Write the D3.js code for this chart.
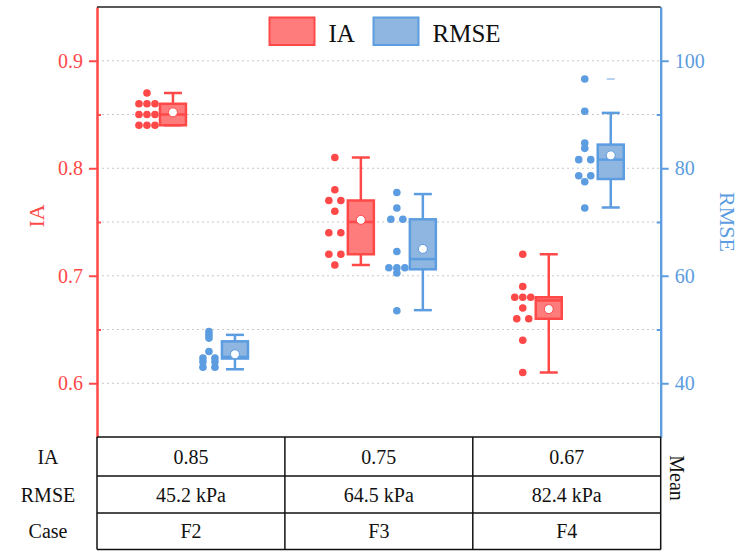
<!DOCTYPE html>
<html>
<head>
<meta charset="utf-8">
<script src="https://cdn.jsdelivr.net/npm/d3@7"></script>
<style>
body { margin: 0; background: #fff; }
text { font-family: "Liberation Serif", "Times New Roman", serif; }
</style>
</head>
<body>
<div id="chart"></div>
<script>
var cases = ["F2", "F3", "F4"];

// individual points per case
var iaPoints = [
  [0.87, 0.86, 0.86, 0.86, 0.85, 0.85, 0.85, 0.84, 0.84, 0.84],
  [0.81, 0.78, 0.77, 0.77, 0.76, 0.74, 0.74, 0.72, 0.72, 0.71],
  [0.72, 0.69, 0.68, 0.68, 0.68, 0.67, 0.66, 0.66, 0.64, 0.61]
];
var rmsePoints = [
  [49.6, 49.0, 48.4, 45.9, 44.7, 44.7, 44.0, 44.0, 43.0, 43.0],
  [75.5, 72.6, 70.5, 70.5, 64.5, 61.5, 61.5, 61.5, 60.5, 53.5],
  [96.6, 90.6, 84.7, 83.7, 81.6, 81.6, 78.6, 78.6, 77.5, 72.6]
];

// box stats: [low whisker, q1, median, q3, high whisker]
var iaBox = [
  [0.84, 0.84, 0.85, 0.86, 0.87],
  [0.71, 0.72, 0.75, 0.77, 0.81],
  [0.61, 0.66, 0.677, 0.68, 0.72]
];
var rmseBox = [
  [42.6, 44.6, 44.9, 47.8, 49.0],
  [53.6, 61.2, 63.1, 70.5, 75.2],
  [72.7, 78.0, 81.6, 84.4, 90.3]
];
var iaMean = [0.852, 0.752, 0.669];
var rmseMean = [45.4, 65.0, 82.4];
var iaOutliers = [[], [], []];
var rmseOutliers = [[], [], [96.6]];

var tableIA = ["0.85", "0.75", "0.67"];
var tableRMSE = ["45.2 kPa", "64.5 kPa", "82.4 kPa"];
var rowLabels = ["IA", "RMSE", "Case"];

var iaTicks = [0.6, 0.7, 0.8, 0.9];
var iaMinor = [0.65, 0.75, 0.85];
var rmseTicks = [40, 60, 80, 100];
var rmseMinor = [50, 70, 90];

var W = 740, H = 551;
var plotLeft = 97, plotRight = 660.7, plotTop = 7, plotBottom = 437;
var rowEdges = [437, 476, 513, 549.5];

var red = "#ff4848", redFill = "#ff7c7c";
var blue = "#5c9ce0", blueFill = "#8fb6e0";

var svg = d3.select("#chart").append("svg")
    .attr("width", W)
    .attr("height", H);

var x = d3.scaleBand().domain(cases).range([plotLeft, plotRight]);
var yIA = d3.scaleLinear().domain([0.55, 0.95]).range([plotBottom, plotTop]);
var yR = d3.scaleLinear().domain([30, 110]).range([plotBottom, plotTop]);

var series = [
  {name: "IA", points: iaPoints, box: iaBox, mean: iaMean, outliers: iaOutliers,
   y: yIA, stroke: red, fill: redFill, offset: -18},
  {name: "RMSE", points: rmsePoints, box: rmseBox, mean: rmseMean, outliers: rmseOutliers,
   y: yR, stroke: blue, fill: blueFill, offset: 44}
];

// dotted grid
svg.append("g").selectAll("line")
  .data(iaTicks.concat(iaMinor))
  .join("line")
    .attr("x1", plotLeft).attr("x2", plotRight)
    .attr("y1", function(d) { return yIA(d); })
    .attr("y2", function(d) { return yIA(d); })
    .attr("stroke", "#c8c8c8")
    .attr("stroke-width", 1)
    .attr("stroke-dasharray", "2,3");

// spread equal values sideways
function swarm(vals) {
  var counts = d3.rollup(vals, function(v) { return v.length; }, function(d) { return d; });
  var seen = new Map();
  return vals.map(function(v) {
    var n = counts.get(v), k = seen.get(v) || 0;
    seen.set(v, k + 1);
    var step = n === 2 ? 12 : 8;
    return {v: v, dx: (k - (n - 1) / 2) * step};
  });
}

series.forEach(function(s) {
  cases.forEach(function(c, i) {
    var cx = x(c) + x.bandwidth() / 2 + s.offset;
    var b = s.box[i];
    var g = svg.append("g");

    // whiskers
    g.append("line")
      .attr("x1", cx).attr("x2", cx)
      .attr("y1", s.y(b[4])).attr("y2", s.y(b[3]))
      .attr("stroke", s.stroke).attr("stroke-width", 2.5);
    g.append("line")
      .attr("x1", cx).attr("x2", cx)
      .attr("y1", s.y(b[1])).attr("y2", s.y(b[0]))
      .attr("stroke", s.stroke).attr("stroke-width", 2.5);
    g.selectAll(".cap")
      .data([b[0], b[4]])
      .join("line")
        .attr("x1", cx - 9).attr("x2", cx + 9)
        .attr("y1", function(d) { return s.y(d); })
        .attr("y2", function(d) { return s.y(d); })
        .attr("stroke", s.stroke).attr("stroke-width", 2.5);

    // box
    g.append("rect")
      .attr("x", cx - 13)
      .attr("y", s.y(b[3]))
      .attr("width", 26)
      .attr("height", s.y(b[1]) - s.y(b[3]))
      .attr("fill", s.fill)
      .attr("stroke", s.stroke)
      .attr("stroke-width", 2.5);
    g.append("line")
      .attr("x1", cx - 13).attr("x2", cx + 13)
      .attr("y1", s.y(b[2])).attr("y2", s.y(b[2]))
      .attr("stroke", s.stroke).attr("stroke-width", 2.5);

    // mean
    g.append("circle")
      .attr("cx", cx).attr("cy", s.y(s.mean[i]))
      .attr("r", 4.5)
      .attr("fill", "#fff")
      .attr("stroke", s.stroke)
      .attr("stroke-width", 1);

    // outliers
    g.selectAll(".out")
      .data(s.outliers[i])
      .join("line")
        .attr("x1", cx - 4).attr("x2", cx + 4)
        .attr("y1", function(d) { return s.y(d); })
        .attr("y2", function(d) { return s.y(d); })
        .attr("stroke", "#9fc2ea").attr("stroke-width", 1.5);

    // data points
    g.selectAll(".pt")
      .data(swarm(s.points[i]))
      .join("circle")
        .attr("cx", function(d) { return cx - 26 + d.dx; })
        .attr("cy", function(d) { return s.y(d.v); })
        .attr("r", 3.8)
        .attr("fill", s.stroke);
  });
});

// axes
var axL = svg.append("g")
    .attr("transform", "translate(" + plotLeft + ",0)")
    .call(d3.axisLeft(yIA).tickValues(iaTicks).tickSize(8).tickSizeOuter(0)
      .tickPadding(6).tickFormat(d3.format(".1f")));
var axLm = svg.append("g")
    .attr("transform", "translate(" + plotLeft + ",0)")
    .call(d3.axisLeft(yIA).tickValues(iaMinor).tickSize(-4).tickSizeOuter(0).tickFormat(""));
var axR = svg.append("g")
    .attr("transform", "translate(" + plotRight + ",0)")
    .call(d3.axisRight(yR).tickValues(rmseTicks).tickSize(8).tickSizeOuter(0).tickPadding(6));
var axRm = svg.append("g")
    .attr("transform", "translate(" + plotRight + ",0)")
    .call(d3.axisRight(yR).tickValues(rmseMinor).tickSize(-4).tickSizeOuter(0).tickFormat(""));

[[axL, red], [axLm, red], [axR, blue], [axRm, blue]].forEach(function(a) {
  a[0].selectAll("path, line").attr("stroke", a[1]).attr("stroke-width", 2);
  a[0].selectAll("text")
    .attr("fill", a[1])
    .style("font-family", "'Liberation Serif', serif")
    .style("font-size", "20px");
});

svg.append("text")
    .attr("transform", "translate(36,216) rotate(-90)")
    .attr("text-anchor", "middle")
    .attr("dominant-baseline", "central")
    .attr("fill", red)
    .style("font-size", "22px")
    .text("IA");
svg.append("text")
    .attr("transform", "translate(727,222) rotate(90)")
    .attr("text-anchor", "middle")
    .attr("dominant-baseline", "central")
    .attr("fill", blue)
    .style("font-size", "22px")
    .text("RMSE");

// top frame
svg.append("line")
    .attr("x1", plotLeft).attr("x2", plotRight)
    .attr("y1", plotTop).attr("y2", plotTop)
    .attr("stroke", "#222").attr("stroke-width", 1.5);

// legend
var legend = svg.append("g");
series.forEach(function(s, i) {
  var lx = [269.5, 373.5][i];
  legend.append("rect")
    .attr("x", lx).attr("y", 17.5)
    .attr("width", 45).attr("height", 27.5)
    .attr("fill", s.fill)
    .attr("stroke", s.stroke)
    .attr("stroke-width", 2);
  legend.append("text")
    .attr("x", lx + 59).attr("y", 41.5)
    .attr("fill", "#111")
    .style("font-size", "25px")
    .text(s.name);
});

// table
var table = svg.append("g");
rowEdges.forEach(function(ry) {
  table.append("line")
    .attr("x1", plotLeft).attr("x2", plotRight)
    .attr("y1", ry).attr("y2", ry)
    .attr("stroke", "#111").attr("stroke-width", 1.5);
});
cases.map(function(c) { return x(c); }).concat([plotRight]).forEach(function(vx) {
  table.append("line")
    .attr("x1", vx).attr("x2", vx)
    .attr("y1", rowEdges[0]).attr("y2", rowEdges[3])
    .attr("stroke", "#111").attr("stroke-width", 1.5);
});
var rows = [tableIA, tableRMSE, cases];
rows.forEach(function(r, ri) {
  var ty = (rowEdges[ri] + rowEdges[ri + 1]) / 2 + 7;
  table.append("text")
    .attr("x", 48).attr("y", ty)
    .attr("text-anchor", "middle")
    .attr("fill", "#111")
    .style("font-size", "20px")
    .text(rowLabels[ri]);
  r.forEach(function(t, ci) {
    table.append("text")
      .attr("x", x(cases[ci]) + x.bandwidth() / 2)
      .attr("y", ty)
      .attr("text-anchor", "middle")
      .attr("fill", "#111")
      .style("font-size", "20px")
      .text(t);
  });
});
svg.append("text")
    .attr("transform", "translate(677,478) rotate(90)")
    .attr("text-anchor", "middle")
    .attr("dominant-baseline", "central")
    .attr("fill", "#111")
    .style("font-size", "20px")
    .text("Mean");
</script>
</body>
</html>
